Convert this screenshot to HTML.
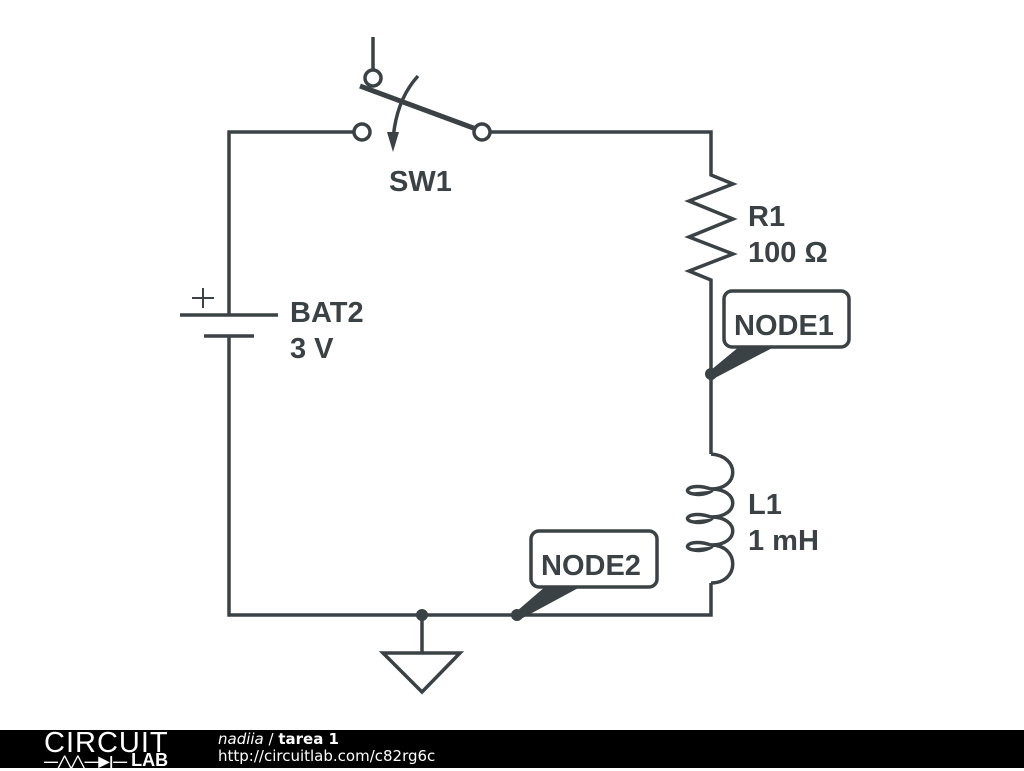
<!DOCTYPE html>
<html><head><meta charset="utf-8"><style>
body{margin:0;width:1024px;height:768px;background:#fff;overflow:hidden;position:relative;font-family:"Liberation Sans",sans-serif}
.ft{position:absolute;left:0;top:730px;width:1024px;height:38px;background:#000;color:#fff}
</style></head><body>
<svg width="1024" height="730" style="position:absolute;left:0;top:0">
<g stroke="#3a4246" stroke-width="3.5" fill="none" stroke-linecap="butt">
<polyline points="354,132 229,132 229,315"/>
<line x1="180" y1="315" x2="278" y2="315"/>
<line x1="204" y1="336" x2="254" y2="336"/>
<line x1="192" y1="298" x2="214" y2="298" stroke-width="2"/>
<line x1="203" y1="288" x2="203" y2="308" stroke-width="2"/>
<polyline points="229,336 229,615 711,615 711,583"/>
<polyline points="490,132 711,132 711,175 733,184 689,201 733,219 689,237 733,254 689,271 711,280 711,454"/>
<circle cx="362" cy="132" r="8"/>
<circle cx="482" cy="132" r="8"/>
<circle cx="373" cy="78" r="8"/>
<line x1="373" y1="37" x2="373" y2="70"/>
<line x1="360" y1="86" x2="476" y2="129" stroke-width="5"/>
<path d="M418,76 Q396,100 393,140"/>
<path d="M711,454 C740,456 740,489 711,489 M711,489 C740,489 740,517 711,517 M711,517 C740,517 740,545 711,545 M711,545 C740,545 740,583 711,583"/>
<path d="M711,489 C690,482 680,492 694,494 C704,496 716,490 711,489 M711,517 C690,510 680,520 694,522 C704,524 716,518 711,517 M711,545 C690,538 680,548 694,550 C704,552 716,546 711,545"/>
<line x1="422" y1="615" x2="422" y2="652"/>
<polygon points="383,653 460,653 422,692"/>
<rect x="724" y="291" width="125" height="56" rx="8"/>
<rect x="531" y="531" width="126" height="56" rx="8"/>
</g>
<g fill="#3a4246">
<polygon points="393,152 387,132 399,132"/>
<circle cx="711" cy="374" r="6"/>
<circle cx="422" cy="615" r="6"/>
<circle cx="517" cy="615" r="6"/>
<polygon points="711,370 740,346 776,346 713,379"/>
<polygon points="517,611 546,586 582,586 519,620"/>
</g>
<g font-family="Liberation Sans,sans-serif" font-weight="bold" font-size="29" fill="#3a4246">
<text x="389" y="191">SW1</text>
<text x="748" y="226">R1</text>
<text x="748" y="262">100 Ω</text>
<text x="290" y="322">BAT2</text>
<text x="290" y="358">3 V</text>
<text x="748" y="514">L1</text>
<text x="748" y="550">1 mH</text>
<text x="734" y="335">NODE1</text>
<text x="541" y="575">NODE2</text>
</g>
</svg>
<div class="ft">
<div style="position:absolute;left:44px;top:-1px;font-size:29px;letter-spacing:1px;font-weight:300;line-height:28px">CIRCUIT</div>
<div style="position:absolute;left:44px;top:22px;font-size:14px;font-weight:bold;line-height:16px">—<span style="font-size:11px">╱╲╱╲</span>—▶|— <span style="font-size:18px">LAB</span></div>
<div style="position:absolute;left:218px;top:1px;font-size:15px;line-height:17px;font-family:'DejaVu Sans',sans-serif"><i>nadiia</i> / <b>tarea 1</b><br>http://circuitlab.com/c82rg6c</div>
</div>
</body></html>
